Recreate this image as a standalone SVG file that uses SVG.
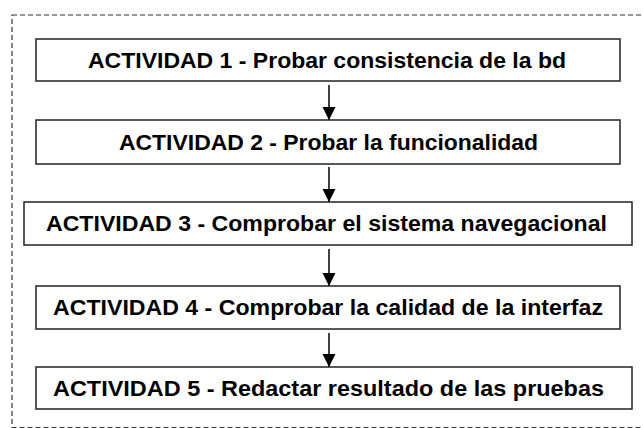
<svg xmlns="http://www.w3.org/2000/svg" width="643" height="428" viewBox="0 0 643 428">
<style>
.box{fill:#fff;stroke:#222;stroke-width:1.5}
.lbl{font-family:"Liberation Sans",Arial,sans-serif;font-weight:bold;font-size:22px;fill:#000;text-anchor:middle}
.conn{stroke:#000;stroke-width:1.5;fill:none}
.frame{fill:none;stroke:#333;stroke-width:1.2;stroke-dasharray:5 3}
</style>
<defs>
<marker id="ah" markerUnits="userSpaceOnUse" markerWidth="14" markerHeight="14" viewBox="0 0 14 14" refX="13" refY="7" orient="auto">
<path d="M0,0.5 L13,7 L0,13.5 Z" fill="#000"/>
</marker>
</defs>
<rect width="643" height="428" fill="#fff"/>
<rect class="frame" x="12" y="15" width="640" height="412.5"/>
<g id="connectors">
<line class="conn" x1="329" y1="85" x2="329" y2="120" marker-end="url(#ah)"/>
<line class="conn" x1="329" y1="167" x2="329" y2="202" marker-end="url(#ah)"/>
<line class="conn" x1="329" y1="249" x2="329" y2="286" marker-end="url(#ah)"/>
<line class="conn" x1="329" y1="333" x2="329" y2="367" marker-end="url(#ah)"/>
</g>
<g id="n1">
<rect class="box" x="36" y="39" width="584" height="42"/>
<text class="lbl" x="327" y="68" textLength="478" lengthAdjust="spacingAndGlyphs">ACTIVIDAD 1 - Probar consistencia de la bd</text>
</g>
<g id="n2">
<rect class="box" x="36" y="120" width="584" height="44"/>
<text class="lbl" x="328.5" y="149.5" textLength="419" lengthAdjust="spacingAndGlyphs">ACTIVIDAD 2 - Probar la funcionalidad</text>
</g>
<g id="n3">
<rect class="box" x="24" y="202" width="608" height="43"/>
<text class="lbl" x="326.5" y="231" textLength="561" lengthAdjust="spacingAndGlyphs">ACTIVIDAD 3 - Comprobar el sistema navegacional</text>
</g>
<g id="n4">
<rect class="box" x="36" y="286" width="584" height="43"/>
<text class="lbl" x="328" y="315" textLength="550" lengthAdjust="spacingAndGlyphs">ACTIVIDAD 4 - Comprobar la calidad de la interfaz</text>
</g>
<g id="n5">
<rect class="box" x="36" y="367" width="596" height="42"/>
<text class="lbl" x="328.5" y="395.5" textLength="551" lengthAdjust="spacingAndGlyphs">ACTIVIDAD 5 - Redactar resultado de las pruebas</text>
</g>
</svg>
